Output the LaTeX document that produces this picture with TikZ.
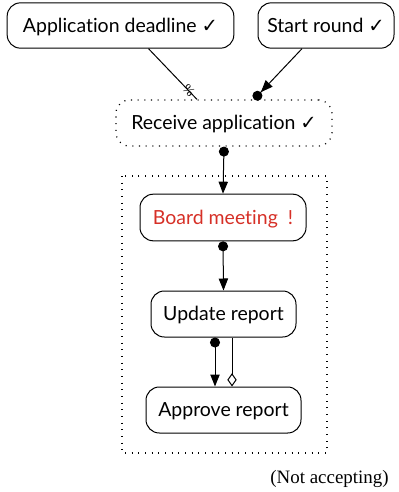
\documentclass[tikz,border=0pt]{standalone}
\usepackage{fontspec}
\setmainfont[Ligatures=NoCommon]{Lato}
\newfontfamily\symf{DejaVu Sans}
\newfontfamily\serf{Liberation Serif}
\usetikzlibrary{arrows.meta,calc}
\definecolor{alertred}{RGB}{214,48,39}
\newcommand{\ck}{{\symf\char"2713}}
\tikzset{
  box/.style={draw, line width=0.75pt, rounded corners=10pt, inner sep=0pt, text height=12pt, text depth=2.2pt, font=\fontsize{14.6}{17}\selectfont},
  dotbox/.style={box, line width=0.9pt, dash pattern=on 0.8pt off 4.2pt},
  edge/.style={line width=0.75pt},
}
\begin{document}
\begin{tikzpicture}[x=0.75pt,y=-0.75pt]
\useasboundingbox (0,0) rectangle (399,492);
\node[box, minimum width=170pt, minimum height=34pt] (app) at (120.5,25.5) {Application deadline \ck};
\node[box, minimum width=102pt, minimum height=34pt] (start) at (326,25.5) {Start round \ck};
\node[dotbox, minimum width=162pt, minimum height=34.5pt] (recv) at (224,123) {Receive application \ck};
\draw[line width=0.9pt, dash pattern=on 0.8pt off 4.2pt] (122,176) rectangle (327,453);
\node[box, minimum width=124.5pt, minimum height=35pt, text=alertred] (board) at (223,217.5) {Board meeting~~!};
\node[box, minimum width=108.75pt, minimum height=34.5pt] (upd) at (223.5,314) {Update report};
\node[box, minimum width=116.25pt, minimum height=34.5pt] (appr) at (223.5,410) {Approve report};
\node[font=\serf\fontsize{14.2}{16}\selectfont] (na) at (329.5,479) {(Not accepting)};
\draw[edge] ($(app.south)+(28,0)$) -- node[pos=0.83, sloped, font=\serf\fontsize{10}{11}\selectfont, inner sep=0pt] (pc) {\%} ($(recv.north)+(-27,0)$);
\draw[edge, -{Triangle[length=9pt,width=7pt] Circle[length=7.5pt]}] ($(start.south)+(-24,0)$) -- ($(recv.north)+(30,0)$);
\draw[edge, {Circle[length=7.5pt]}-{Triangle[length=9pt,width=7pt]}] (recv.south) -- (board.north);
\draw[edge, {Circle[length=7.5pt]}-{Triangle[length=9pt,width=7pt]}] (board.south) -- (upd.north);
\draw[edge, {Circle[length=7.5pt]}-{Triangle[length=9pt,width=7pt]}] ($(upd.south)+(-8.5,0)$) -- ($(appr.north)+(-8.5,0)$);
\draw[edge, -{Diamond[open,length=10pt,width=7pt]}] ($(upd.south)+(8.5,0)$) -- ($(appr.north)+(8.5,0)$);
\end{tikzpicture}
\end{document}
